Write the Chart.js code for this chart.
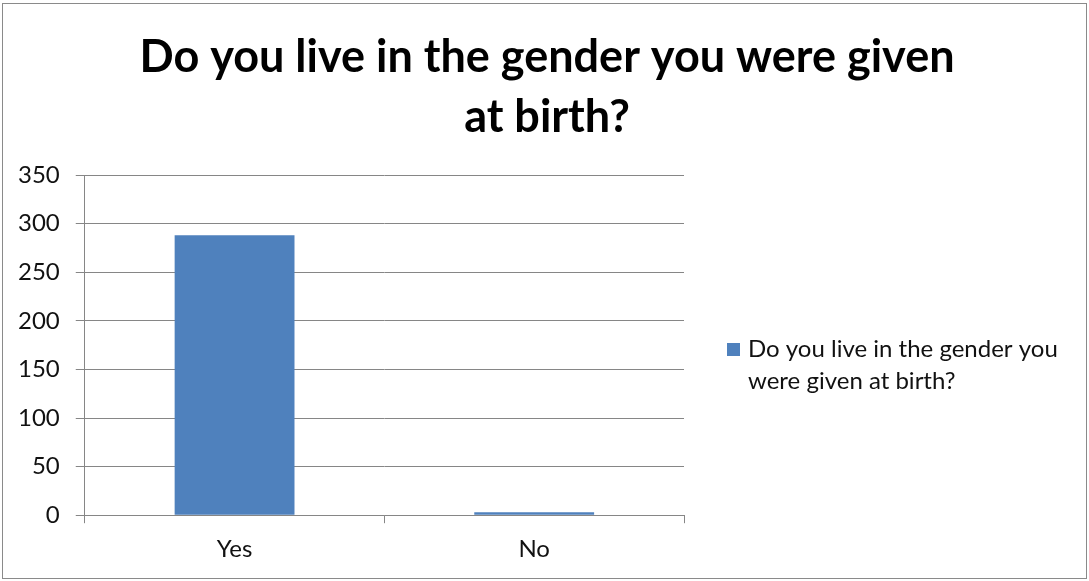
<!DOCTYPE html>
<html>
<head>
<meta charset="utf-8">
<script src="https://cdn.jsdelivr.net/npm/chart.js@4"></script>
<style>
  html, body { margin: 0; padding: 0; background: #fff; }
  #wrap { position: relative; width: 1089px; height: 581px; }
  #frame { position: absolute; left: 2px; top: 3px; width: 1083px; height: 574px; border: 1px solid #8a8a8a; pointer-events: none; }
  canvas { position: absolute; left: 0; top: 0; }
</style>
</head>
<body>
<div id="wrap">
  <canvas id="chart" width="1089" height="581"></canvas>
  <div id="frame"></div>
</div>
<script>
// data
const categories = ['Yes', 'No'];
const seriesName = 'Do you live in the gender you were given at birth?';
const seriesValues = [288, 3];
const titleLines = ['Do you live in the gender you were given', 'at birth?'];
const legendLines = ['Do you live in the gender you', 'were given at birth?'];
const yTicks = [0, 50, 100, 150, 200, 250, 300, 350];

const barColor = '#4F81BD';
const gridColor = '#868686';
const fontFam = 'Lato, sans-serif';

// title centred on the whole picture, not only on the plot
const pageTitle = {
  id: 'pageTitle',
  afterDraw(chart) {
    const ctx = chart.ctx;
    ctx.save();
    ctx.fillStyle = '#000';
    ctx.font = 'bold 45px ' + fontFam;
    ctx.textAlign = 'center';
    ctx.textBaseline = 'middle';
    titleLines.forEach((l, i) => ctx.fillText(l, 547, 57 + i * 60));
    ctx.restore();
  }
};

// legend drawn by hand so it can wrap on two lines like the original
const sideLegend = {
  id: 'sideLegend',
  afterDraw(chart) {
    const ctx = chart.ctx;
    const a = chart.chartArea;
    const x = a.right + 43;
    const y = a.top + 168;
    ctx.save();
    ctx.fillStyle = barColor;
    ctx.fillRect(x, y, 13, 13);
    ctx.fillStyle = '#111';
    ctx.font = '24px ' + fontFam;
    ctx.textBaseline = 'middle';
    legendLines.forEach((l, i) => ctx.fillText(l, x + 21, y + 6 + i * 32));
    ctx.restore();
  }
};

new Chart(document.getElementById('chart'), {
  type: 'bar',
  data: {
    labels: categories,
    datasets: [{
      label: seriesName,
      data: seriesValues,
      backgroundColor: barColor,
      borderWidth: 0,
      categoryPercentage: 1,
      barPercentage: 0.4
    }]
  },
  options: {
    responsive: false,
    animation: false,
    layout: { padding: { left: 2, right: 405, top: 175, bottom: 5 } },
    plugins: {
      legend: { display: false },
      tooltip: { enabled: false },
      title: { display: false }
    },
    scales: {
      x: {
        offset: true,
        grid: { display: true, drawOnChartArea: false, drawTicks: true, tickLength: 8, offset: true, color: gridColor },
        border: { display: true, color: gridColor },
        ticks: { color: '#111', font: { family: fontFam, size: 24 }, padding: 12 }
      },
      y: {
        min: 0,
        max: 350,
        afterBuildTicks(axis) { axis.ticks = yTicks.map(v => ({ value: v })); },
        grid: { color: gridColor, tickLength: 9 },
        border: { display: true, color: gridColor },
        ticks: { color: '#111', font: { family: fontFam, size: 24 }, padding: 16 }
      }
    }
  },
  plugins: [pageTitle, sideLegend]
});
</script>
</body>
</html>
